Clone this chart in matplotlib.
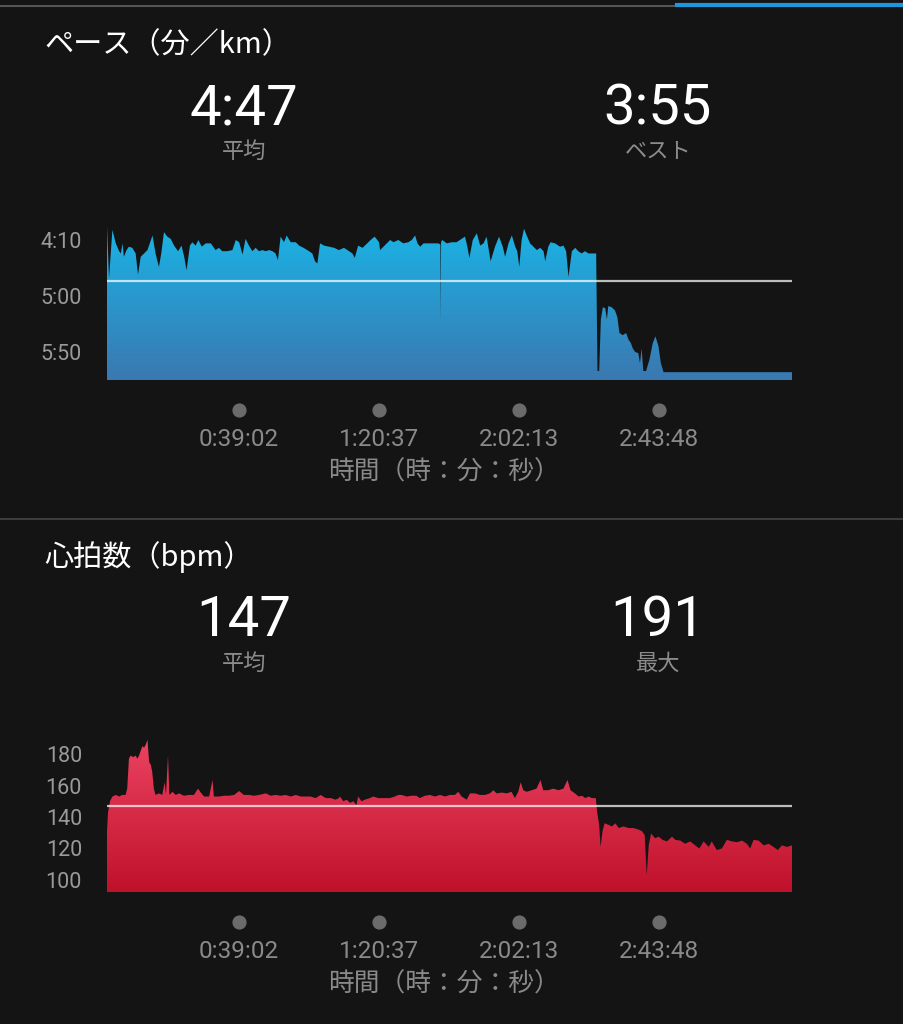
import numpy as np
import matplotlib
matplotlib.use("Agg")
import matplotlib.pyplot as plt
from matplotlib.colors import LinearSegmentedColormap
from matplotlib.lines import Line2D

plt.rcParams['font.family'] = ['Noto Sans CJK JP', 'DejaVu Sans']
NUM_FONT = ['Roboto', 'DejaVu Sans']

W, H = 904, 1024
BG = '#141414'

# ペース: 経過時間(分) と ペース(秒/km)
pace_t = [0, 0.6, 1.6, 2.6, 3.6, 4.1, 4.6, 5.0, 5.8, 6.5, 7.5, 8.5, 9.2, 10.0, 11.0, 12.0,
          13.5, 14.4, 15.4, 16.1, 16.9, 17.9, 18.9, 19.9, 21.1, 22.1, 22.9, 23.6, 24.6, 25.3,
          26.3, 27.1, 28.1, 29.3, 30.8, 32.2, 33.2, 34.2, 35.7, 37.2, 38.2, 39.2, 40.2, 41.1,
          42.1, 43.1, 44.1, 45.1, 46.1, 47.1, 48.1, 49.1, 50.0, 50.7, 51.5, 52.5, 53.3, 54.5,
          56.0, 57.0, 58.3, 59.4, 60.9, 61.7, 62.4, 63.2, 64.4, 65.9, 67.4, 68.8, 70.3, 71.8,
          72.8, 73.5, 74.5, 75.8, 77.2, 78.2, 79.4, 80.7, 81.0, 82.0, 83.0, 84.0, 85.0, 86.4,
          87.9, 89.4, 90.4, 91.4, 92.1, 92.9, 93.9, 95.3, 96.8, 98.3, 98.9, 99.0, 99.1, 99.4,
          100.8, 102.3, 103.7, 105.2, 106.2, 106.9, 107.5, 108.5, 109.7, 110.7, 111.7, 112.6,
          113.8, 115.1, 116.3, 117.4, 118.1, 119.1, 120.1, 121.1, 121.7, 122.3, 123.0, 123.7,
          124.5, 125.5, 126.5, 127.5, 128.5, 129.5, 130.0, 130.9, 131.6, 132.9, 134.4, 135.4,
          136.2, 136.9, 137.9, 138.9, 139.8, 140.8, 141.8, 142.8, 143.8, 145.1, 145.5, 146.0,
          146.5, 147.1, 147.8, 148.3, 148.7, 149.7, 150.7, 151.4, 152.0, 153.0, 154.0, 154.7,
          155.4, 156.0, 156.7, 157.6, 158.1, 158.6, 159.1, 159.9, 160.9, 161.9, 162.7, 163.6,
          164.3, 165.1, 203.2]
pace_v = [238, 284, 241, 253, 260, 262, 253, 265, 259, 256, 257, 262, 281, 265, 262, 259,
          246, 262, 274, 262, 243, 247, 249, 255, 260, 255, 265, 277, 255, 252,
          255, 250, 256, 253, 253, 259, 257, 260, 260, 259, 250, 252, 263, 249,
          255, 260, 257, 260, 259, 260, 259, 260, 262, 268, 247, 252, 246, 252,
          252, 255, 257, 259, 262, 269, 271, 253, 255, 256, 257, 259, 257, 260,
          262, 266, 255, 257, 253, 250, 247, 252, 259, 256, 253, 250, 252, 250,
          253, 252, 250, 246, 253, 256, 253, 253, 253, 253, 254, 324, 252, 250,
          253, 252, 252, 249, 247, 256, 266, 250, 244, 255, 253, 247,
          269, 256, 247, 256, 265, 253, 246, 256, 260, 274, 250, 240,
          246, 253, 256, 259, 257, 260, 269, 256, 252, 253, 256, 255,
          260, 283, 260, 257, 260, 262, 260, 262, 262, 262, 367, 367,
          321, 310, 311, 321, 309, 310, 313, 319, 333, 335, 333, 339,
          342, 347, 350, 351, 360, 347, 367, 367, 357, 342, 336, 345,
          360, 368, 368]

# 心拍数: 経過時間(分) と bpm
hr_t = [0, 0.3, 0.9, 1.6, 2.6, 3.6, 4.5, 5.5, 6.0, 6.5, 7.0, 7.8, 8.5, 9.0, 9.5, 10.0, 10.5,
        11.0, 11.5, 12.0, 12.5, 13.0, 13.4, 13.9, 14.4, 15.4, 16.4, 17.1, 17.5, 18.1, 18.5,
        19.4, 20.4, 21.4, 22.8, 24.3, 25.8, 27.0, 28.0, 28.8, 30.3, 31.3, 31.7, 33.2, 34.7,
        36.2, 37.7, 39.2, 40.6, 42.1, 43.6, 45.1, 47.1, 48.6, 50.0, 51.5, 53.0, 54.5, 56.0,
        57.5, 59.0, 60.4, 61.9, 63.4, 64.9, 66.4, 67.8, 68.8, 69.1, 70.1, 71.1, 72.1, 73.1,
        74.0, 74.5, 75.5, 76.5, 78.0, 79.0, 80.5, 82.0, 83.9, 85.4, 86.4, 87.4, 88.9, 90.4,
        91.8, 92.8, 94.3, 95.8, 97.3, 98.8, 100.3, 101.7, 103.2, 104.2, 105.2, 106.7, 107.7,
        109.2, 110.6, 112.1, 113.6, 114.6, 115.6, 117.1, 118.6, 120.0, 121.0, 122.0, 122.7,
        123.5, 124.5, 126.0, 127.4, 128.6, 129.4, 130.9, 132.4, 133.9, 135.4, 136.6, 137.5,
        138.8, 139.9, 140.9, 141.9, 142.9, 143.8, 145.0, 145.4, 146.0, 146.4, 147.0, 147.6,
        148.8, 149.8, 150.8, 151.8, 153.2, 154.7, 156.2, 157.7, 158.7, 159.5, 160.1, 160.7,
        161.4, 162.6, 163.6, 164.8, 166.1, 167.6, 168.6, 170.1, 171.5, 173.0, 174.5, 175.7,
        177.0, 178.5, 179.4, 180.9, 182.4, 183.9, 185.4, 186.9, 188.4, 189.8, 190.8, 191.8,
        193.3, 194.8, 196.3, 197.7, 199.0, 200.2, 201.7, 203.2]
hr_v = [131, 143, 150, 153, 154, 153, 154, 154, 158, 177, 179, 178, 179, 177, 179, 182, 185,
        184, 186, 189, 175, 173, 169, 158, 154, 155, 154, 162, 154, 179, 154,
        156, 154, 155, 153.5, 154, 154, 158, 155, 153, 153, 163.5, 153, 153, 153.5,
        153.5, 154, 156.5, 154, 154, 153.5, 154, 155, 153.5, 154, 153.5, 154, 153, 154,
        153, 153, 153, 152, 154, 152, 152, 151, 152, 153, 150, 151, 149, 150,
        147.5, 153, 150, 151, 152, 153, 152, 152, 152, 153, 154, 154, 153, 153.5,
        153.5, 152, 153.5, 154, 153, 154, 153, 154, 154, 156, 153, 151, 155,
        155, 154, 154, 155, 157, 155, 155.5, 155, 156, 152, 156, 162,
        157, 156, 157, 158, 163.5, 157, 157, 158, 157, 158, 163.5, 157,
        155, 153, 153.5, 152, 153, 152, 152, 143, 135, 121, 131, 136,
        135, 134, 136, 133, 134, 133, 133, 132, 131, 128.5, 103, 122,
        129.5, 126.5, 127.5, 125.5, 124.5, 127.5, 125.5, 125, 123, 124.5, 122, 120,
        124.5, 121, 124.5, 119, 120, 125.5, 124.5, 124, 125, 123, 120, 125.5,
        125, 122, 123, 121, 119, 122, 121, 122]

tick_min = [39.03, 80.62, 122.22, 163.80]
tick_lbl = ['0:39:02', '1:20:37', '2:02:13', '2:43:48']
pace_ticks = [250, 300, 350]
pace_tick_lbl = ['4:10', '5:00', '5:50']
hr_ticks = [100, 120, 140, 160, 180]
pace_avg = 287
hr_avg = 147
t_end = 203.2

fig = plt.figure(figsize=(W / 100, H / 100), dpi=100, facecolor=BG)


def fx(x):
    return x / W


def fy(y):
    return 1 - y / H


def panel(top, bottom, t, v, ylim, avg, c_top, c_bot, yticks, ylabels):
    ax = fig.add_axes([fx(107), fy(bottom), (792 - 107) / W, (bottom - top) / H])
    ax.set_facecolor(BG)
    poly = ax.fill_between(t, v, ylim[0], color='none', lw=0)
    cmap = LinearSegmentedColormap.from_list('g', [c_bot, c_top])
    grad = np.linspace(0, 1, 256).reshape(-1, 1)
    im = ax.imshow(grad, cmap=cmap, aspect='auto', origin='lower',
                   extent=[0, t_end, ylim[0], ylim[1]], zorder=1)
    im.set_clip_path(poly.get_paths()[0], transform=ax.transData)
    ax.axhline(avg, color='white', alpha=0.72, lw=1.6, zorder=3)
    ax.set_xlim(0, t_end)
    ax.set_ylim(*ylim)
    for s in ax.spines.values():
        s.set_visible(False)
    ax.set_xticks([])
    ax.set_yticks(yticks)
    ax.set_yticklabels(ylabels, family=NUM_FONT)
    ax.tick_params(axis='y', length=0, pad=18, labelcolor='#9a9a9a', labelsize=15.5)
    h = bottom - top
    tr = ax.get_xaxis_transform()
    ax.scatter(tick_min, [-30 / h] * len(tick_min), s=85, color='#6b6b6b',
               transform=tr, clip_on=False, zorder=3)
    for tm, lb in zip(tick_min, tick_lbl):
        ax.text(tm, -59 / h, lb, transform=tr, ha='center', va='center',
                color='#8a8a8a', fontsize=17.5, family=NUM_FONT)
    ax.text(0.492, -93 / h, '時間（時：分：秒）', transform=ax.transAxes, ha='center',
            va='center', color='#8a8a8a', fontsize=18.5)
    return ax


def header(y0, title, v1, l1, v2, l2):
    fig.text(fx(44), fy(y0), title, color='white', fontsize=21, va='center', ha='left')
    fig.text(fx(244), fy(y0 + 64), v1, color='white', fontsize=40.5, va='center',
             ha='center', family=NUM_FONT)
    fig.text(fx(658), fy(y0 + 64), v2, color='white', fontsize=40.5, va='center',
             ha='center', family=NUM_FONT)
    fig.text(fx(244), fy(y0 + 106), l1, color='#8c8c8c', fontsize=16, va='center', ha='center')
    fig.text(fx(658), fy(y0 + 106), l2, color='#8c8c8c', fontsize=16, va='center', ha='center')


# 上部のバー
fig.add_artist(Line2D([0, fx(677)], [fy(6), fy(6)], color='#555555', lw=1.5))
fig.add_artist(Line2D([fx(677), 1], [fy(5), fy(5)], color='#1e96dc', lw=3))
# 区切り線
fig.add_artist(Line2D([0, 1], [fy(519), fy(519)], color='#3c3c3c', lw=1.5))

header(45, 'ペース（分／km）', '4:47', '平均', '3:55', 'ベスト')
pace_top = 250 - 20 / 1.12
panel(220, 380, pace_t, pace_v, (375, pace_top), pace_avg,
      '#19b6e8', '#3a78b0', pace_ticks, pace_tick_lbl)

header(557, '心拍数（bpm）', '147', '平均', '191', '最大')
panel(735, 892, hr_t, hr_v, (100 - 12 / 1.575, 100 + 145 / 1.575), hr_avg,
      '#ec4463', '#c0112b', hr_ticks, [str(v) for v in hr_ticks])

fig.savefig('out.png', dpi=100, facecolor=BG)
